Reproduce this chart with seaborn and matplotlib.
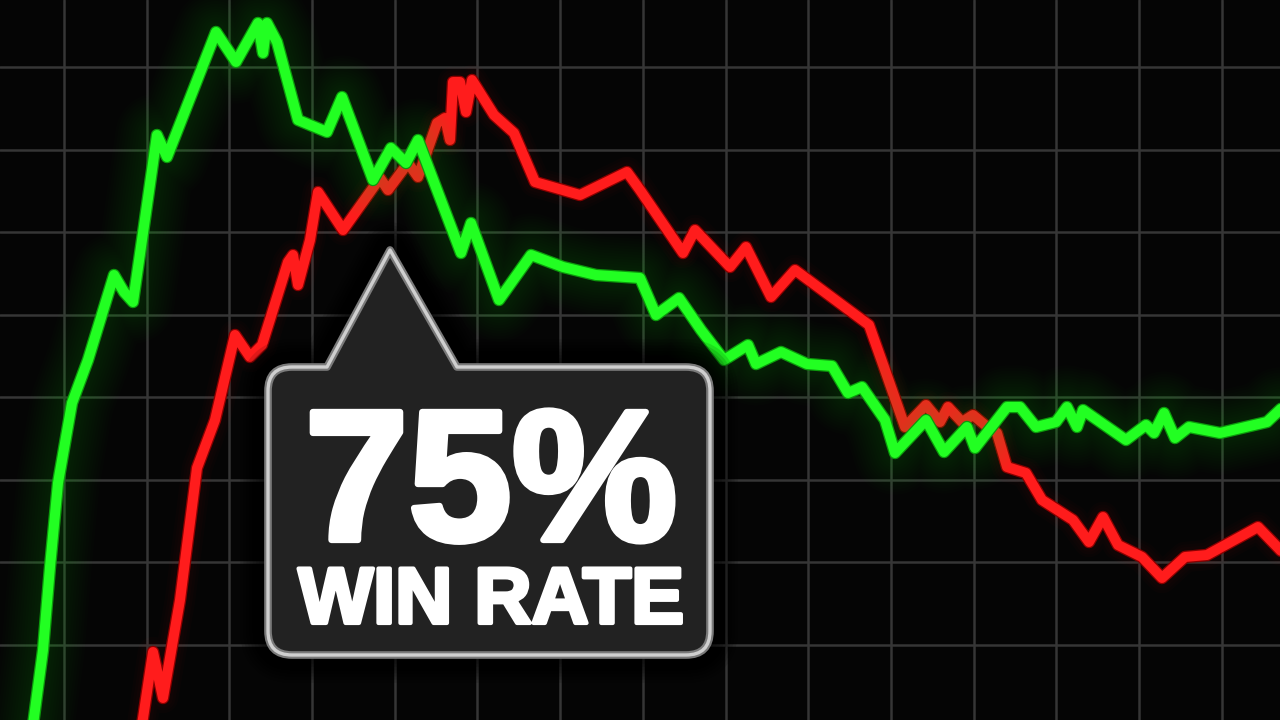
import numpy as np
import pandas as pd
import matplotlib
matplotlib.use("Agg")
import matplotlib.pyplot as plt
import matplotlib.patheffects as pe
import seaborn as sns
from matplotlib.path import Path
from matplotlib.patches import PathPatch

# ---- data (horizontal position, level; level = higher is up) ----
green_x = [33, 43, 50, 58, 72, 88, 114, 124, 133, 143, 157, 167, 216, 236, 258, 263, 267, 277,
           298, 327, 342, 373, 391, 406, 418, 461, 471, 499, 531, 563, 596, 640, 656, 679, 701,
           724, 748, 756, 781, 807, 832, 848, 862, 885, 895, 926, 944, 967, 975, 1007, 1020,
           1036, 1056, 1067, 1077, 1083, 1126, 1146, 1154, 1164, 1175, 1189, 1220, 1267, 1285]
green_y = [-5, 70, 153, 237, 317, 360, 445, 428, 418, 487, 585, 563, 688, 658, 697, 667, 697, 678,
           600, 588, 623, 540, 572, 557, 580, 467, 497, 420, 465, 453, 445, 442, 405, 422, 390,
           360, 375, 356, 368, 356, 354, 327, 333, 300, 267, 300, 268, 293, 272, 313, 313,
           293, 298, 313, 293, 310, 280, 295, 287, 307, 282, 293, 287, 298, 315]

red_x = [142, 153, 163, 180, 197, 215, 235, 250, 262, 288, 293, 298, 310, 318, 343, 380, 388, 408,
         418, 437, 445, 450, 453, 460, 466, 472, 494, 514, 535, 580, 627, 640, 683, 695, 730,
         746, 771, 795, 869, 885, 905, 926, 940, 948, 962, 973, 985, 997, 1007, 1026, 1042,
         1073, 1089, 1103, 1118, 1142, 1162, 1185, 1207, 1258, 1285]
red_y = [-5, 68, 22, 120, 252, 300, 385, 363, 375, 458, 465, 435, 480, 528, 490, 542, 530, 557,
         543, 597, 602, 580, 638, 638, 608, 640, 605, 587, 538, 525, 548, 530, 467, 490, 453,
         473, 423, 450, 395, 350, 293, 315, 298, 313, 298, 305, 295, 287, 253, 247, 220,
         200, 178, 203, 175, 163, 142, 163, 165, 193, 165]

grid_x = np.arange(64, 1280, 82.7)
grid_y = 720 - np.arange(67, 720, 82.5)

label_big = "75%"
label_small = "WIN RATE"

green_df = pd.DataFrame({"t": green_x, "v": green_y})
red_df = pd.DataFrame({"t": red_x, "v": red_y})

sns.set_theme(style="dark")
fig = plt.figure(figsize=(12.8, 7.2), dpi=100)
fig.patch.set_facecolor("#040404")
ax = fig.add_axes([0, 0, 1, 1])
ax.set_facecolor("#050505")
ax.set_xlim(0, 1280)
ax.set_ylim(0, 720)
for s in ax.spines.values():
    s.set_visible(False)
ax.set_xticks(grid_x)
ax.set_yticks(grid_y)
ax.tick_params(length=0, labelbottom=False, labelleft=False)
ax.grid(True, color="#363636", lw=1.8, zorder=0)
ax.set_xlabel("")
ax.set_ylabel("")

kw = dict(ax=ax, x="t", y="v", sort=False, estimator=None, legend=False)
rnd = dict(solid_joinstyle="round", solid_capstyle="round")

# red line: faint halo then the line
for w in np.linspace(22, 10, 4):
    sns.lineplot(data=red_df, color="#ff2020", lw=w, alpha=0.02, zorder=2, **rnd, **kw)
sns.lineplot(data=red_df, color="#8a0000", lw=9.0, zorder=3, **rnd, **kw)
sns.lineplot(data=red_df, color="#ff1c1c", lw=7.2, zorder=3.1, **rnd, **kw)

# green line with soft glow
for w in np.linspace(60, 10, 14):
    sns.lineplot(data=green_df, color="#1cff1c", lw=w, alpha=0.013, zorder=4, **rnd, **kw)
sns.lineplot(data=green_df, color="#0c9a0c", lw=9.0, zorder=5, **rnd, **kw)
sns.lineplot(data=green_df, color="#22ff22", lw=7.2, zorder=5.1, **rnd, **kw)

# callout box with pointer
L, R, T, B, r = 268, 710, 720 - 367, 720 - 655, 24
apex = (390, 720 - 250)
bl, br = 327, 457
verts = [(L + r, T), (bl, T), apex, (br, T), (R - r, T),
         (R, T), (R, T - r),
         (R, B + r),
         (R, B), (R - r, B),
         (L + r, B),
         (L, B), (L, B + r),
         (L, T - r),
         (L, T), (L + r, T),
         (L + r, T)]
codes = [Path.MOVETO, Path.LINETO, Path.LINETO, Path.LINETO, Path.LINETO,
         Path.CURVE3, Path.CURVE3,
         Path.LINETO,
         Path.CURVE3, Path.CURVE3,
         Path.LINETO,
         Path.CURVE3, Path.CURVE3,
         Path.LINETO,
         Path.CURVE3, Path.CURVE3,
         Path.CLOSEPOLY]
box_path = Path(verts, codes)
for w in np.linspace(40, 8, 8):
    ax.add_patch(PathPatch(box_path, facecolor="none", edgecolor="black", lw=w,
                           alpha=0.12, joinstyle="round", zorder=8))
ax.add_patch(PathPatch(box_path, facecolor="#222222", edgecolor="#7a7a7a", lw=5.5,
                       joinstyle="round", zorder=9))
ax.add_patch(PathPatch(box_path, facecolor="none", edgecolor="#cfcfcf", lw=2.4,
                       joinstyle="round", zorder=9.5))

fam = ["Liberation Sans", "DejaVu Sans"]
ax.text(491, 720 - 540, label_big, ha="center", va="baseline", color="white",
        fontsize=134, fontweight="bold", family=fam, zorder=10,
        path_effects=[pe.withStroke(linewidth=4.5, foreground="white")])
ax.text(491, 720 - 623, label_small, ha="center", va="baseline", color="white",
        fontsize=57, fontweight="bold", family=fam, zorder=10,
        path_effects=[pe.withStroke(linewidth=3, foreground="white")])

fig.savefig("out.png", dpi=100, facecolor=fig.get_facecolor())
